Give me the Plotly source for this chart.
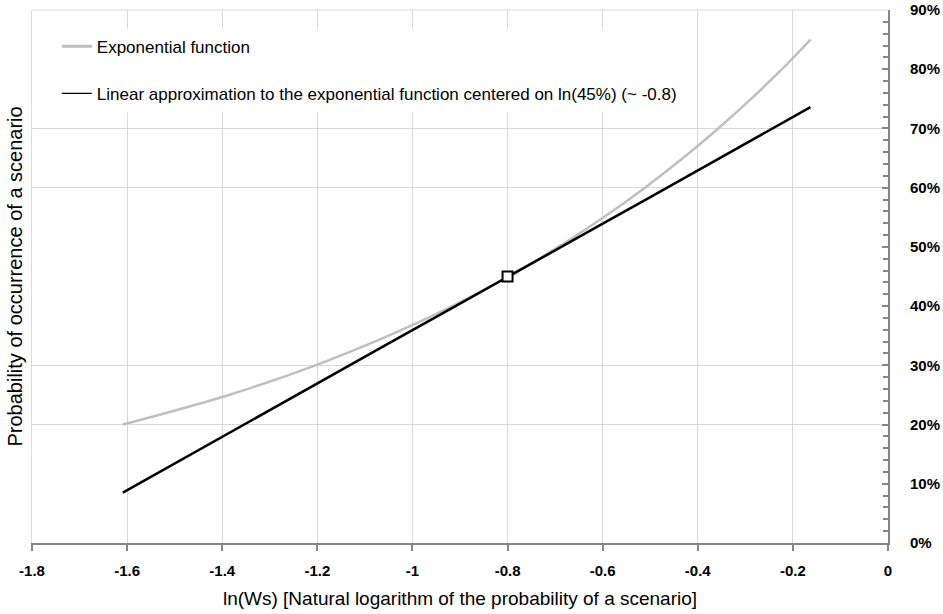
import plotly.graph_objects as go

# Probabilities (5% steps) and their natural logarithms
prob_levels = [0.20, 0.25, 0.30, 0.35, 0.40, 0.45, 0.50, 0.55, 0.60, 0.65, 0.70, 0.75, 0.80, 0.85]
ln_w = [-1.609, -1.386, -1.204, -1.050, -0.916, -0.799, -0.693, -0.598, -0.511, -0.431, -0.357, -0.288, -0.223, -0.163]
# Linear approximation values at the same points
linear_vals = [0.085, 0.186, 0.268, 0.337, 0.397, 0.450, 0.498, 0.540, 0.579, 0.615, 0.649, 0.680, 0.709, 0.736]
# Centre point
center_x = [-0.8]
center_y = [0.45]

x_tick_vals = [-1.8, -1.6, -1.4, -1.2, -1.0, -0.8, -0.6, -0.4, -0.2, 0.0]
x_tick_text = ["-1.8", "-1.6", "-1.4", "-1.2", "-1", "-0.8", "-0.6", "-0.4", "-0.2", "0"]
y_tick_vals = [0.0, 0.1, 0.2, 0.3, 0.4, 0.5, 0.6, 0.7, 0.8, 0.9]
y_tick_text = ["0%", "10%", "20%", "30%", "40%", "50%", "60%", "70%", "80%", "90%"]
y_grid_vals = [0.2, 0.3, 0.6, 0.7]

name_exp = "Exponential function"
name_lin = "Linear approximation to the exponential function centered on ln(45%) (~ -0.8)"
x_title = "ln(Ws) [Natural logarithm of the probability of a scenario]"
y_title = "Probability of occurrence of a scenario"

GRAY = "#BFBFBF"
FONT = "Liberation Sans"

fig = go.Figure()
fig.add_trace(go.Scatter(x=ln_w, y=prob_levels, mode="lines", line=dict(color=GRAY, width=2.5, shape="spline"),
                         showlegend=False, yaxis="y"))
fig.add_trace(go.Scatter(x=ln_w, y=linear_vals, mode="lines", line=dict(color="black", width=2.5),
                         showlegend=False, yaxis="y"))
fig.add_trace(go.Scatter(x=center_x, y=center_y, mode="markers",
                         marker=dict(symbol="square", size=10, color="white", line=dict(color="black", width=2)),
                         showlegend=False, yaxis="y"))
# legend entries (thin/thick samples as in the reference legend)
fig.add_trace(go.Scatter(x=[None], y=[None], mode="lines", line=dict(color=GRAY, width=3),
                         name=name_exp, legendgroup="a", yaxis="y2"))
fig.add_trace(go.Scatter(x=[None], y=[None], mode="lines", line=dict(color="black", width=1.2),
                         name=name_lin, legendgroup="b", yaxis="y2"))

fig.update_layout(
    width=943, height=614,
    margin=dict(l=32, r=55, t=10, b=71),
    paper_bgcolor="white", plot_bgcolor="white",
    font=dict(family=FONT, color="black"),
    showlegend=True,
    legend=dict(x=0.029, y=0.965, xanchor="left", yanchor="top", bgcolor="white",
                font=dict(size=17, family=FONT), tracegroupgap=22, itemwidth=30),
    xaxis=dict(range=[-1.8, 0], tickvals=x_tick_vals, ticktext=x_tick_text,
               showgrid=True, gridcolor="#D9D9D9", gridwidth=1, automargin=False,
               showline=True, linecolor="#868686", linewidth=2,
               ticks="outside", ticklen=6, tickcolor="#868686", tickwidth=2,
               tickfont=dict(size=15, family=FONT, color="black", weight="bold"),
               ticklabelstandoff=7, zeroline=False, ticklabeloverflow="allow",
               title=dict(text=x_title, font=dict(size=19, family=FONT), standoff=14)),
    yaxis=dict(range=[0, 0.9], tickvals=y_grid_vals, showticklabels=False, ticks="",
               showgrid=True, gridcolor="#D9D9D9", gridwidth=1, zeroline=False, automargin=False,
               showline=True, linecolor="#D9D9D9", linewidth=1, mirror=False),
    yaxis2=dict(range=[0, 0.9], overlaying="y", side="right", anchor="x", automargin=False,
                tickvals=y_tick_vals, ticktext=y_tick_text, showgrid=False, zeroline=False,
                showline=True, linecolor="#868686", linewidth=2,
                ticks="inside", ticklen=6, tickcolor="#868686", tickwidth=2,
                minor=dict(dtick=0.02, ticks="inside", ticklen=5, tickcolor="#868686", tickwidth=1.5),
                tickfont=dict(size=15, family=FONT, color="black", weight="bold"),
                ticklabelstandoff=17, ticklabeloverflow="allow"),
)
# y axis title on the left
fig.add_annotation(text=y_title, xref="paper", yref="paper", x=-0.021, y=0.5,
                   xanchor="center", yanchor="middle", textangle=-90, showarrow=False,
                   font=dict(size=20, family=FONT, color="black"))
# top border of plot area
fig.add_shape(type="line", xref="paper", yref="paper", x0=0, x1=1, y0=1, y1=1,
              line=dict(color="#D9D9D9", width=1), layer="below")

fig.write_html("out.html", config={"displayModeBar": False},
               post_script="document.body.style.margin='0';")
